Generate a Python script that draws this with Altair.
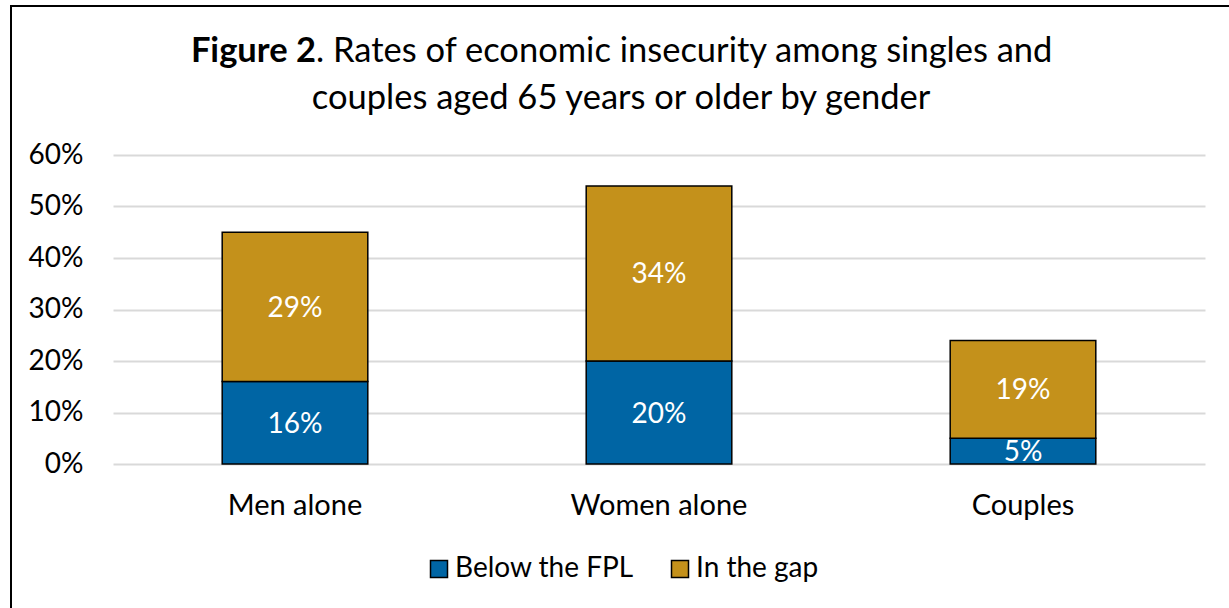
import altair as alt
import pandas as pd

# Chart values
categories = ["Men alone", "Women alone", "Couples"]
below_fpl = [16, 20, 5]
in_gap = [29, 34, 19]
series_names = ["Below the FPL", "In the gap"]
series_colors = ["#0065A4", "#C4911B"]
y_ticks = [0, 10, 20, 30, 40, 50, 60]

FONT = "Lato"

rows = []
for cat, b, g in zip(categories, below_fpl, in_gap):
    rows.append({"category": cat, "series": series_names[0], "value": b,
                 "start": 0, "end": b})
    rows.append({"category": cat, "series": series_names[1], "value": g,
                 "start": b, "end": b + g})
df = pd.DataFrame(rows)
df["mid"] = (df["start"] + df["end"]) / 2
df["label"] = df["value"].astype(str) + "%"

x_enc = alt.X(
    "category:N",
    sort=categories,
    title=None,
    scale=alt.Scale(paddingInner=0.6, paddingOuter=0.3),
    axis=alt.Axis(labelAngle=0, labelFont=FONT, labelFontSize=29,
                  labelColor="#000000", labelPadding=27, ticks=False,
                  domain=False, grid=False),
)

base = alt.Chart(df)

bars = base.mark_bar(stroke="#000000", strokeWidth=1.5).encode(
    x=x_enc,
    y=alt.Y(
        "start:Q",
        title=None,
        scale=alt.Scale(domain=[0, 60], nice=False),
        axis=alt.Axis(values=y_ticks, labelExpr="datum.value + '%'",
                      labelFont=FONT, labelFontSize=28, labelColor="#000000",
                      labelPadding=30, ticks=False, domain=False,
                      grid=True, gridColor="#D9D9D9", gridWidth=2),
    ),
    y2="end:Q",
    color=alt.Color(
        "series:N",
        sort=series_names,
        scale=alt.Scale(domain=series_names, range=series_colors),
        legend=alt.Legend(
            title=None, orient="none", direction="horizontal",
            legendX=312, legendY=400,
            symbolType="square", symbolSize=289,
            symbolStrokeColor="#000000", symbolStrokeWidth=1.5,
            labelFont=FONT, labelFontSize=28, labelColor="#000000",
            labelLimit=400, labelOffset=2, columnPadding=32,
        ),
    ),
)

labels = base.mark_text(color="#FFFFFF", font=FONT, fontSize=28,
                        baseline="middle", dy=2, clip=True).encode(
    x=alt.X("category:N", sort=categories),
    y=alt.Y("mid:Q"),
    text="label:N",
)

# Outer frame around the whole figure
frame = alt.Chart(alt.Data(values=[{}])).mark_rect(
    fill=None, stroke="#000000", strokeWidth=2
).encode(
    x=alt.value(-102), x2=alt.value(1130),
    y=alt.value(-149), y2=alt.value(470),
)

# Two-line title with a bold figure number
TITLE_SIZE = 34.5

title_bold = alt.Chart(alt.Data(values=[{"t": "Figure 2"}])).mark_text(
    font=FONT, fontSize=TITLE_SIZE, fontWeight="bold", align="right",
    baseline="alphabetic", color="#000000"
).encode(x=alt.value(203), y=alt.value(-93), text="t:N")

title_rest = alt.Chart(
    alt.Data(values=[{"t": ". Rates of economic insecurity among singles and"}])
).mark_text(
    font=FONT, fontSize=TITLE_SIZE, align="left", baseline="alphabetic",
    color="#000000"
).encode(x=alt.value(203), y=alt.value(-93), text="t:N")

title_line2 = alt.Chart(
    alt.Data(values=[{"t": "couples aged 65 years or older by gender"}])
).mark_text(
    font=FONT, fontSize=TITLE_SIZE, align="center", baseline="alphabetic",
    color="#000000"
).encode(x=alt.value(508), y=alt.value(-46), text="t:N")

chart = alt.layer(frame, bars, labels, title_bold, title_rest, title_line2).properties(
    width=1092,
    height=309,
    padding={"left": 113, "top": 155, "right": 24, "bottom": 144},
    autosize=alt.AutoSizeParams(type="none"),
    background="#FFFFFF",
).configure_view(stroke=None)

chart.save("out.html", embed_options={"renderer": "svg", "actions": False})
